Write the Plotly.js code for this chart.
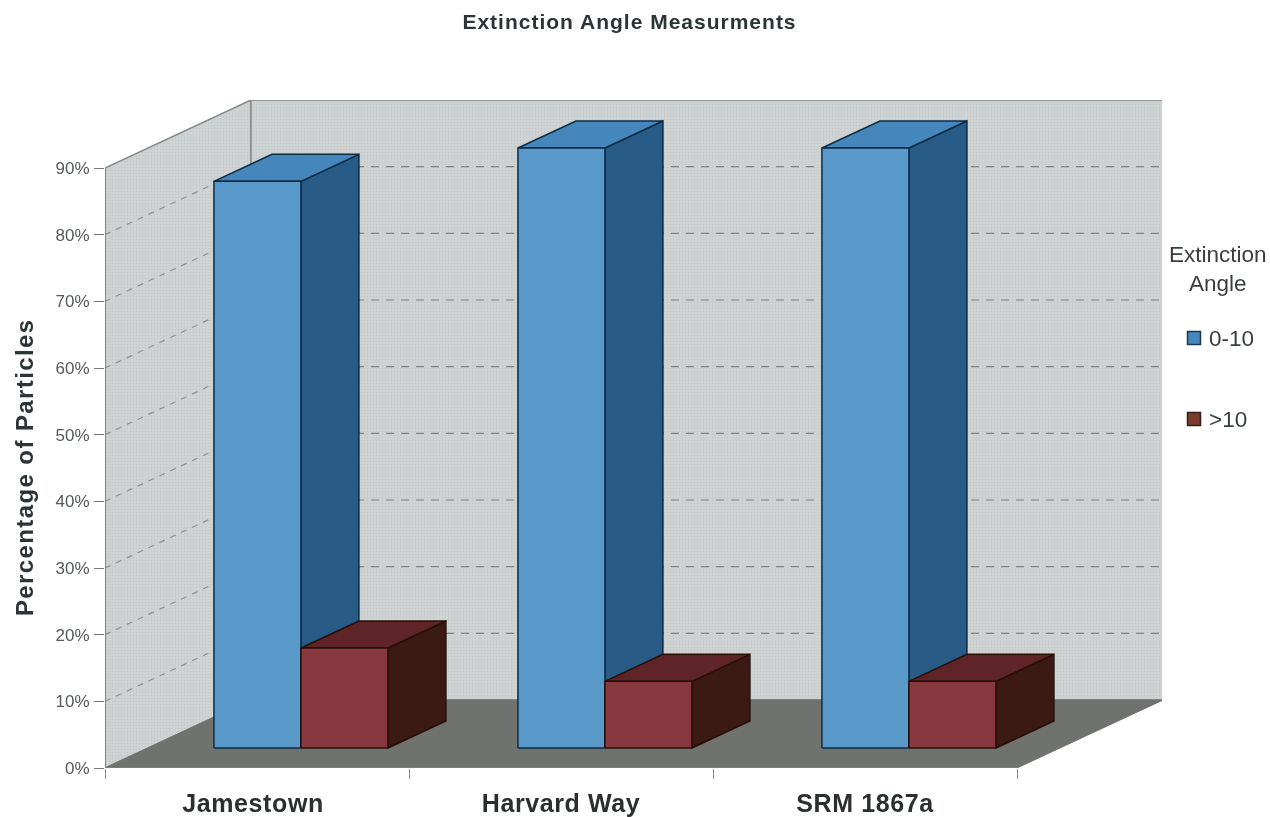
<!DOCTYPE html>
<html><head><meta charset="utf-8">
<script src="https://cdn.plot.ly/plotly-3.0.1.min.js"></script>
<style>html,body{margin:0;padding:0;background:#fff}#chart{width:1270px;height:817px;filter:blur(0.7px)}
.gtitle{letter-spacing:1px}.xtick text{letter-spacing:0.6px}.annotation[data-index="4"] text{letter-spacing:1.4px}</style>
</head><body><div id="chart"></div>
<script>
const categories = ['Jamestown','Harvard Way','SRM 1867a'];
const angleLow = [85,90,90];
const angleHigh = [15,10,10];
const percentTicks = [0,10,20,30,40,50,60,70,80,90];
const seriesNames = ['0-10','>10'];
const labelCenters = [0.487,0.5,0.5];

// oblique projection of the 3-D box, in axis units
const W=1270,H=817,L=105,R=1162,T=100,B=768;
const pxX=304, pxY=600/90;
const depthX=146/pxX, depthY=68/pxY;
const floorW=categories.length;
const yMax=(B-T)/pxY, xMax=(R-L)/pxX;
const barW=87/pxX, gapX=66/pxX, barD0=20/68, barD1=47/68;
const proj=(x,v,d)=>[x+d*depthX, v+d*depthY];

const traces=[];
function poly(pts,fill,line,width,pattern){
  const c=[...pts,pts[0]];
  const t={x:c.map(p=>p[0]),y:c.map(p=>p[1]),mode:'lines',fill:'toself',fillcolor:fill,
    line:{color:line,width:width===undefined?1.5:width},hoverinfo:'skip',showlegend:false};
  if(pattern) t.fillpattern=pattern;
  traces.push(t);
}
function seg(a,b,color,width,dash){
  traces.push({x:[a[0],b[0]],y:[a[1],b[1]],mode:'lines',line:{color,width,dash:dash||'solid'},hoverinfo:'skip',showlegend:false});
}
const speck={shape:'.',size:3,solidity:0.2,fgcolor:'#c3c7c8',bgcolor:'#d0d3d4'};
const topTick=percentTicks[percentTicks.length-1];
// walls and floor
poly([proj(0,0,0),proj(0,0,1),proj(0,topTick,1),proj(0,topTick,0)],'#d0d3d4','#858987',1.5,speck);
poly([proj(0,0,1),proj(floorW,0,1),proj(floorW,topTick,1),proj(0,topTick,1)],'#cdd0d1','#858987',1.5,speck);
poly([proj(0,0,0),proj(floorW,0,0),proj(floorW,0,1),proj(0,0,1)],'#6f726e','#6f726e',1);
// gridlines
percentTicks.slice(1,-1).forEach(v=>{
  seg(proj(0,v,0),proj(0,v,1),'#8e9291',1.2,'6px,6px');
  seg(proj(0,v,1),proj(floorW,v,1),'#7d8180',1.2,'8px,7px');
});
percentTicks.slice(0,1).forEach(v=>seg(proj(0,v,0),proj(floorW,v,0),'#8a8e88',1));
seg(proj(0,0,0),proj(0,topTick,0),'#8a7f68',1.5);

function box(x0,v,cols){
  const x1=x0+barW;
  const [f,t,s,l]=cols;
  poly([proj(x1,0,barD0),proj(x1,0,barD1),proj(x1,v,barD1),proj(x1,v,barD0)],s,l);
  poly([proj(x0,v,barD0),proj(x1,v,barD0),proj(x1,v,barD1),proj(x0,v,barD1)],t,l);
  poly([proj(x0,0,barD0),proj(x1,0,barD0),proj(x1,v,barD0),proj(x0,v,barD0)],f,l);
}
const blue=['#5a9aca','#4587bd','#285b86','#0c2c44'];
const red=['#88393f','#5e2427','#3a1a12','#261008'];
categories.forEach((c,i)=>{
  box(i+gapX,angleLow[i],blue);
  box(i+gapX+barW,angleHigh[i],red);
});

const px=x=>(x-L)/(R-L), py=y=>(B-y)/(B-T);
const FF='Liberation Sans, Arial, sans-serif';
const legendSwatch=(yc,fill,line)=>({type:'rect',xref:'paper',yref:'paper',x0:px(1187.5),x1:px(1200.5),y0:py(yc+6.5),y1:py(yc-6.5),fillcolor:fill,line:{color:line,width:1.5}});
const legendText=(text,x,y,anchor)=>({text,xref:'paper',yref:'paper',x:px(x),y:py(y),xanchor:anchor,yanchor:'middle',showarrow:false,font:{family:FF,size:22.5,color:'#3a3f3d'}});

const layout={
  width:W,height:H,showlegend:false,paper_bgcolor:'#fff',plot_bgcolor:'rgba(0,0,0,0)',
  margin:{l:L,r:W-R,t:T,b:H-B,autoexpand:false},
  title:{text:'Extinction Angle Measurments',x:629.5/W,xanchor:'center',y:1-22/H,yanchor:'middle',
    font:{family:FF,size:21,weight:700,color:'#2d3436'}},
  xaxis:{range:[0,xMax],showgrid:false,zeroline:false,showline:false,
    tickmode:'array',tickvals:categories.map((c,i)=>i+labelCenters[i]),ticktext:categories,ticks:'',ticklabelstandoff:18,
    tickfont:{family:FF,size:25,weight:700,color:'#2b2f2e'},
    minor:{tickmode:'array',tickvals:[0,1,2,3],ticks:'outside',ticklen:10,tickcolor:'#8d8f84',tickwidth:1,showgrid:false}},
  yaxis:{range:[0,yMax],showgrid:false,zeroline:false,showline:false,
    tickmode:'array',tickvals:percentTicks,ticktext:percentTicks.map(v=>v+'%'),ticks:'outside',ticklen:10,tickcolor:'#777',tickwidth:1,
    ticklabelstandoff:1,
    tickfont:{family:FF,size:17,color:'#555a59'}},
  shapes:[legendSwatch(338,blue[1],'#1b3a4e'),legendSwatch(419,'#7c3a30','#33201a')],
  annotations:[
    legendText('Extinction',1218,254,'center'),
    legendText('Angle',1218,283,'center'),
    legendText(seriesNames[0],1207,338,'left'),
    legendText(seriesNames[1],1207,419,'left'),
    {text:'Percentage of Particles',xref:'paper',yref:'paper',x:px(24),y:py(468),xanchor:'center',yanchor:'middle',textangle:-90,showarrow:false,
     font:{family:FF,size:24,weight:700,color:'#2d3436'}}
  ]
};
Plotly.newPlot('chart',traces,layout,{displayModeBar:false,staticPlot:true});
</script></body></html>
